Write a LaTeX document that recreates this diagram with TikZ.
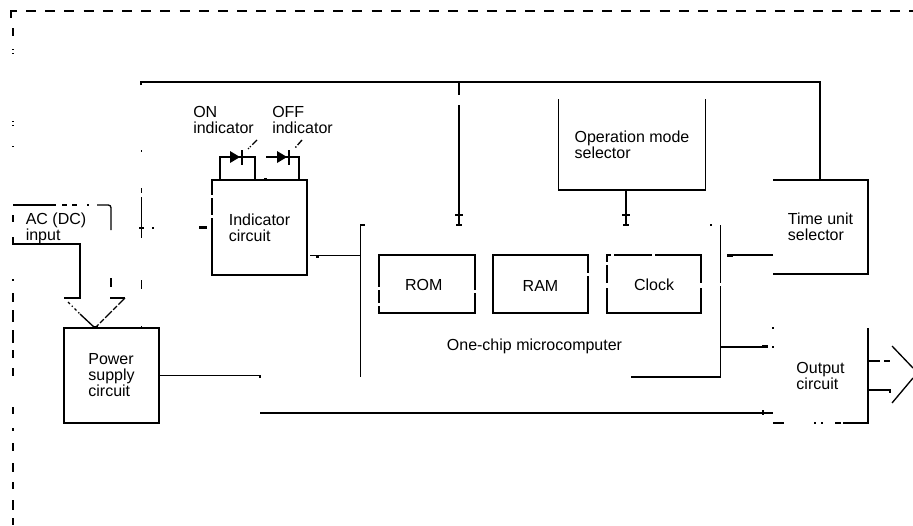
\documentclass[tikz,border=0pt]{standalone}
\usepackage{fontspec}
\setmainfont{Liberation Sans}
\usetikzlibrary{calc,positioning}
\tikzset{
    component/.style={
    rectangle,draw=black,line width=1pt,outer sep=0pt,inner sep=0pt,align=left,
    font=\fontsize{12}{12}\selectfont
    },
    chipblock/.style={
    component,minimum height=43.5pt,text height=10.5pt
    },
    openblock/.style={
    rectangle,outer sep=0pt,inner sep=0pt,align=left,
    font=\fontsize{12}{12}\selectfont
    },
    wire/.style={
    draw=black,line width=1pt
    },
    blob/.style={
    draw=black,line width=2pt
    },
    nick/.style={
    draw=white,line width=1.8pt
    },
}
\begin{document}
\begin{tikzpicture}[x=0.75pt,y=-0.75pt]
   \useasboundingbox (0,0) rectangle (913,525);

   % boxes
   \node[component,minimum width=71.25pt,minimum height=71.25pt] (PSU) at (111.5,375.5) {Power\\supply\\circuit};
   \node[component,minimum width=71.25pt,minimum height=71.25pt] (IND) at (259.5,227.5) {Indicator\\circuit};
   \node[chipblock,minimum width=72pt] (ROM) at (427,284) {ROM\hspace{5pt}};
   \node[chipblock,minimum width=71.25pt] (RAM) at (540.5,284) {RAM};
   \node[chipblock,minimum width=70.5pt] (CLK) at (654,284) {Clock};
   \node[openblock,minimum width=110.25pt,minimum height=68.25pt] (OPM) at (632,144.5) {Operation mode\\selector};
   \node[openblock,minimum width=71.25pt,minimum height=70.5pt] (TUS) at (820.5,227) {Time unit\\selector};
   \node[openblock,minimum width=71.25pt,minimum height=71.25pt] (OUT) at (820.5,375.5) {Output\\circuit};
   \node[openblock,minimum width=270pt,minimum height=114pt] (MCU) at (540.5,301) {};
   \node[openblock] (MCUname) at (534.5,346) {One-chip microcomputer};
   \node[openblock] (ACIN) at (56,228) {AC (DC)\\input};
   \node[openblock] (ONL) at (223.5,120) {ON\\indicator};
   \node[openblock] (OFFL) at (302.5,120) {OFF\\indicator};

   % open sides
   \draw[wire] (OPM.north west) -- (OPM.south west) -- (OPM.south east) -- (OPM.north east);
   \draw[wire] (TUS.north west) -- (TUS.north east) -- (TUS.south east) -- (TUS.south west);
   \draw[wire] (OUT.north east) -- (OUT.south east) -- (843,423);
   \foreach \a/\b in {835/841,821/823,814/816} {
     \draw[wire] (\a,423) -- (\b,423);
   }
   \draw[wire] (OUT.south west) -- (784,423);
   \draw[wire] (MCU.north west) ++(4,0) -- (MCU.north west) -- (MCU.south west);
   \draw[wire] (MCU.north east) -- (MCU.south east) -- (631,377);
   \foreach \a/\b in {379/287,379/303,475/290,588/273,607/262,607/283,607/285,701/283,701/285,720.5/283,212/195,212/215} {
     \draw[nick] (\a,\b) -- ++(0,2.5);
   }
   \foreach \a in {611,652} {
     \draw[nick] (\a,255) -- ++(3,0);
   }

   % outer frame
   \draw[wire,line width=1.2pt] (17,11) -- (11,11) -- (11,18);
   \draw[wire,line width=1.2pt,dash pattern=on 7.5pt off 6.9pt] (26,11) -- (913,11);
   \foreach \a/\b in {28/36,49/50,53/54,121/122,125/126,146/147,215/222,237/243,279/281,293/302,310/322,330/343,350/358,368/376,407/414,428/431,443/451,463/472,482/489,500/510,518/525} {
     \draw[wire] (13,\a) -- (13,\b);
   }

   % bus from time unit selector
   \coordinate (busl) at (141,85);
   \coordinate (busr) at (820,82);
   \coordinate (romtap) at (459,82);
   \coordinate (romstub) at (459,105);
   \coordinate (clktap) at (626,190);
   \draw[wire] (busl) |- (busr) -- (busr |- TUS.north);
   \draw[wire] (romtap) -- ++(0,13);
   \draw[wire] (romstub) -- (romstub |- MCU.north);
   \draw[wire] (clktap) -- (clktap |- MCU.north);
   \foreach \x in {459,626} {
     \draw[wire] (\x-4,215) -- (\x+4,215);
     \draw[wire] (\x-3,225) -- (\x+3,225);
   }
   \foreach \a/\b in {150/152,188/193,197/238,280/289,326/328} {
     \draw[wire] (141.5,\a) -- (141.5,\b);
   }
   \draw[blob] (139,228) -- (144,228);
   \draw[wire] (152,228) -- (154,228);
   \draw[blob] (199,227.5) -- (207,227.5);

   % indicator lamps
   \coordinate (onl) at (220,180);
   \coordinate (onr) at (255,180);
   \coordinate (offl) at (266,157);
   \coordinate (offr) at (299,180);
   \draw[wire] (onl) |- (onr |- offl) -- (onr);
   \draw[wire] (offl) -| (offr);
   \foreach \x in {230,277} {
     \fill (\x,151) -- (\x+10,157) -- (\x,163) -- cycle;
     \draw[wire] (\x+12,150) -- (\x+12,165);
   }
   \draw[wire,dash pattern=on 5pt off 1.5pt on 1pt off 1pt] (257,140) -- (248,149);
   \draw[wire,dash pattern=on 5pt off 1.5pt on 1pt off 1pt] (302,140) -- (295,148);
   \draw[wire] (254,179) -- (256,179);
   \draw[blob] (264,179) -- (267,179);

   % links into the microcomputer
   \coordinate (indout) at (310,255.5);
   \coordinate (tusout) at (773,255);
   \coordinate (mcuout) at (720.5,347);
   \coordinate (pwrout) at (260,375.5);
   \coordinate (pwrlow) at (260,413);
   \draw[wire] (indout) -- (indout -| MCU.west);
   \draw[blob] (316,257) -- (319,257);
   \draw[wire] (tusout) -- (727,255);
   \draw[blob] (727,256) -- (733,256);
   \draw[wire] (mcuout) -- (768,347);
   \draw[blob] (762,346.5) -- (768,346.5);
   \draw[wire] (773,346) -- (773,348);
   \draw[wire] (773,327) -- (773,329);
   \draw[wire] (710,225) -- (712,225);
   \draw[wire] (PSU.east) -- (pwrout) -- ++(0,2);
   \draw[wire] (pwrlow) -- (pwrlow -| OUT.west);
   \draw[blob] (763,410) -- (763,415);

   % mains input
   \coordinate (acl) at (13,238);
   \coordinate (acc) at (80,244);
   \coordinate (acm) at (80,298);
   \coordinate (tipl) at (64,298);
   \coordinate (tipr) at (125,298);
   \coordinate (tipm) at (95,328);
   \draw[wire] (acl) |- (acc) -- (acm) -- (tipl);
   \draw[wire] (13,205) -- (56,205);
   \draw[blob] (33,205) -- (56,205);
   \foreach \a/\b in {62/67,72/77,87/89} {
     \draw[wire] (\a,205) -- (\b,205);
   }
   \draw[wire,rounded corners=2pt] (97,205) -- (111,205) -- (111,230);
   \draw[wire] (111,278) -- (111,287);
   \draw[wire] (110,298) -- (tipr);
   \draw[wire,dash pattern=on 2pt off 2pt on 1pt off 2pt] (68,302) -- (80,314);
   \draw[wire] (80,314) -- (tipm);
   \draw[wire,dash pattern=on 7pt off 1.5pt on 4pt off 1.5pt] (tipr) -- (tipm);
   \draw[blob] (93,327) -- (98,327);

   % output arrow
   \coordinate (outup) at (868,361);
   \coordinate (outlo) at (868,390);
   \draw[wire] (outup) -- (880,361);
   \draw[wire] (884,361) -- (890,361);
   \draw[wire] (outlo) -- (890,390) -- (890,393);
   \draw[wire] (892,346) -- (913,368);
   \draw[wire] (892,403) -- (913,378);
\end{tikzpicture}
\end{document}
